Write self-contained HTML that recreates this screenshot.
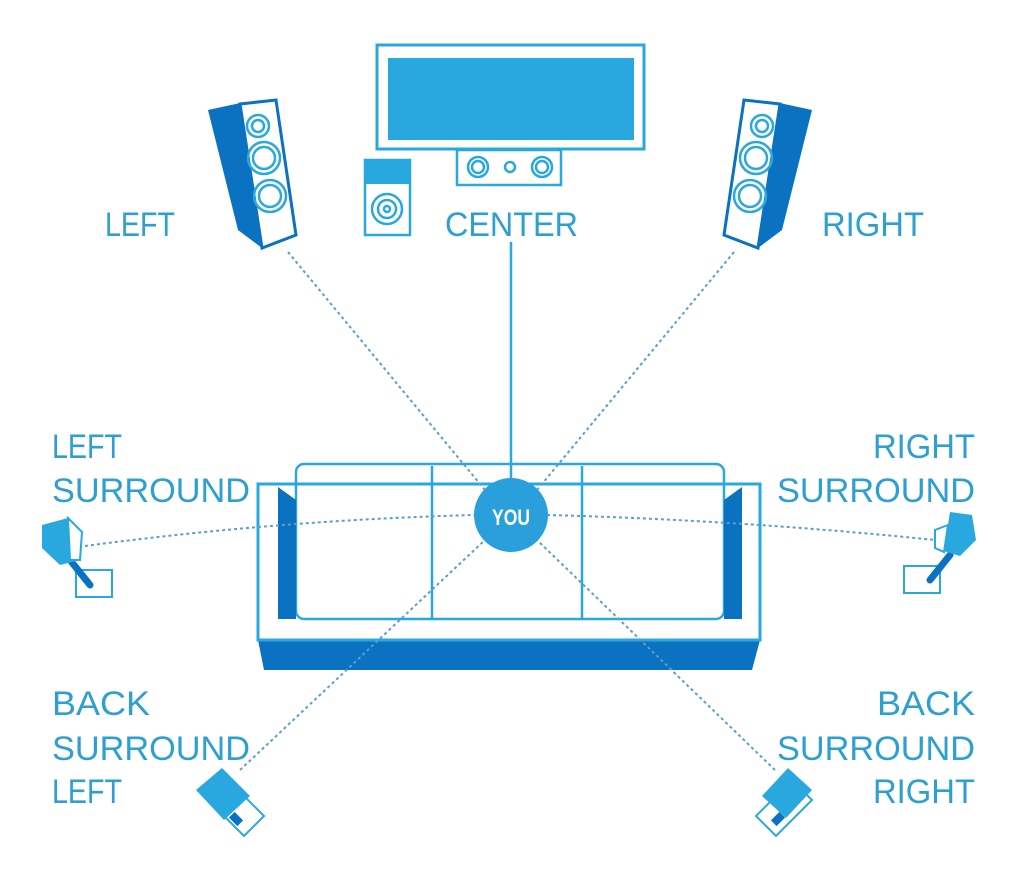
<!DOCTYPE html>
<html><head><style>html,body{margin:0;padding:0;background:#fff;}svg{display:block}</style></head>
<body>
<svg width="1020" height="890" viewBox="0 0 1020 890" xmlns="http://www.w3.org/2000/svg">
<g font-family="Liberation Sans, sans-serif" font-size="34" fill="#2d9fd0">
<text x="105" y="236" textLength="70" lengthAdjust="spacingAndGlyphs">LEFT</text>
<text x="445" y="236" textLength="133" lengthAdjust="spacingAndGlyphs">CENTER</text>
<text x="822" y="236" textLength="102" lengthAdjust="spacingAndGlyphs">RIGHT</text>
<text x="52" y="458" textLength="70" lengthAdjust="spacingAndGlyphs">LEFT</text>
<text x="52" y="502" textLength="198" lengthAdjust="spacingAndGlyphs">SURROUND</text>
<text x="873" y="458" textLength="102" lengthAdjust="spacingAndGlyphs">RIGHT</text>
<text x="777" y="502" textLength="198" lengthAdjust="spacingAndGlyphs">SURROUND</text>
<text x="52" y="715" textLength="98" lengthAdjust="spacingAndGlyphs">BACK</text>
<text x="52" y="760" textLength="198" lengthAdjust="spacingAndGlyphs">SURROUND</text>
<text x="52" y="803" textLength="70" lengthAdjust="spacingAndGlyphs">LEFT</text>
<text x="877" y="715" textLength="98" lengthAdjust="spacingAndGlyphs">BACK</text>
<text x="777" y="760" textLength="198" lengthAdjust="spacingAndGlyphs">SURROUND</text>
<text x="873" y="803" textLength="102" lengthAdjust="spacingAndGlyphs">RIGHT</text>
</g>
<!-- TV -->
<rect x="377" y="45" width="267" height="104" fill="#fff" stroke="#29a8e0" stroke-width="3"/>
<rect x="388" y="58" width="246" height="82" fill="#29a8e0"/>
<!-- center speaker -->
<rect x="457" y="150" width="104" height="35" fill="#fff" stroke="#29a8e0" stroke-width="2.5"/>
<g fill="none" stroke="#29a8e0" stroke-width="2.5">
<circle cx="478" cy="167" r="10"/><circle cx="478" cy="167" r="6"/>
<circle cx="510" cy="167" r="5"/>
<circle cx="542" cy="167" r="10"/><circle cx="542" cy="167" r="6"/>
</g>
<!-- sub -->
<rect x="365" y="160" width="45" height="75" fill="#fff" stroke="#29a8e0" stroke-width="2.5"/>
<rect x="365" y="160" width="45" height="24" fill="#29a8e0"/>
<g fill="none" stroke="#29a8e0" stroke-width="2.5"><circle cx="387" cy="209" r="15"/><circle cx="387" cy="209" r="9"/><circle cx="387" cy="209" r="3"/></g>
<!-- left tower -->
<polygon points="208,110 245,102 262,248 238,230" fill="#0a72c0"/>
<polygon points="240,104 276,100 296,235 262,248" fill="#fff" stroke="#0a72c0" stroke-width="3"/>
<g fill="none" stroke="#29a8e0" stroke-width="2.5">
<circle cx="258" cy="126" r="11"/><circle cx="258" cy="126" r="6"/>
<circle cx="264" cy="158" r="16"/><circle cx="264" cy="158" r="11"/>
<circle cx="270" cy="196" r="16"/><circle cx="270" cy="196" r="11"/>
</g>
<!-- right tower -->
<polygon points="812,110 775,102 758,248 782,230" fill="#0a72c0"/>
<polygon points="780,104 744,100 724,235 758,248" fill="#fff" stroke="#0a72c0" stroke-width="3"/>
<g fill="none" stroke="#29a8e0" stroke-width="2.5">
<circle cx="762" cy="126" r="11"/><circle cx="762" cy="126" r="6"/>
<circle cx="756" cy="158" r="16"/><circle cx="756" cy="158" r="11"/>
<circle cx="750" cy="196" r="16"/><circle cx="750" cy="196" r="11"/>
</g>
<!-- sofa -->
<polygon points="258,640 760,640 752,670 264,670" fill="#0a72c0"/>
<rect x="258" y="484" width="502" height="156" fill="#fff" stroke="#29a8e0" stroke-width="3"/>
<rect x="296" y="464" width="428" height="155" rx="8" fill="#fff" stroke="#29a8e0" stroke-width="2.5"/>
<line x1="432" y1="466" x2="432" y2="618" stroke="#29a8e0" stroke-width="2.5"/>
<line x1="582" y1="466" x2="582" y2="618" stroke="#29a8e0" stroke-width="2.5"/>
<polygon points="278,487 296,500 296,619 278,619" fill="#0a72c0"/>
<polygon points="742,487 724,500 724,619 742,619" fill="#0a72c0"/>
<rect x="258" y="484" width="502" height="156" fill="none" stroke="#29a8e0" stroke-width="3"/>
<!-- lines -->
<line x1="511" y1="242" x2="511" y2="482" stroke="#29a8e0" stroke-width="2.5"/>
<g fill="none" stroke="#5a9ed0" stroke-width="2" stroke-dasharray="3,3">
<line x1="288" y1="252" x2="485" y2="490"/>
<line x1="734" y1="252" x2="537" y2="490"/>
<path d="M85,546 Q280,520 475,515"/>
<path d="M547,515 Q740,520 935,540"/>
<line x1="240" y1="770" x2="485" y2="540"/>
<line x1="775" y1="770" x2="537" y2="540"/>
</g>
<circle cx="511" cy="515" r="37" fill="#29a0dc"/>
<text x="511" y="525" text-anchor="middle" font-family="Liberation Sans, sans-serif" font-weight="bold" font-size="22" fill="#fff" textLength="38" lengthAdjust="spacingAndGlyphs">YOU</text>
<!-- left surround -->
<rect x="76" y="570" width="36" height="27" fill="#fff" stroke="#29a8e0" stroke-width="2"/>
<line x1="70" y1="560" x2="90" y2="585" stroke="#0a72c0" stroke-width="7" stroke-linecap="round"/>
<polygon points="42,525 68,518 82,532 80,560 60,565 42,548" fill="#29a8e0"/>
<polygon points="68,518 82,532 80,560 70,560" fill="#fff" stroke="#29a8e0" stroke-width="2"/>
<!-- right surround -->
<rect x="904" y="566" width="36" height="27" fill="#fff" stroke="#29a8e0" stroke-width="2"/>
<line x1="950" y1="555" x2="930" y2="580" stroke="#0a72c0" stroke-width="7" stroke-linecap="round"/>
<polygon points="950,512 972,515 976,540 960,556 940,550 948,525" fill="#29a8e0"/>
<polygon points="935,530 948,525 944,552 935,548" fill="#fff" stroke="#29a8e0" stroke-width="2"/>
<!-- back left -->
<polygon points="228,780 264,816 244,836 208,800" fill="#fff" stroke="#29a8e0" stroke-width="2"/>
<polygon points="196,790 222,768 250,796 224,820" fill="#29a8e0"/>
<rect x="230" y="815" width="12" height="8" fill="#0a72c0" transform="rotate(45 236 819)"/>
<!-- back right -->
<polygon points="792,780 756,816 776,836 812,800" fill="#fff" stroke="#29a8e0" stroke-width="2"/>
<polygon points="812,790 788,768 762,796 786,818" fill="#29a8e0"/>
<rect x="772" y="815" width="12" height="8" fill="#0a72c0" transform="rotate(-45 778 819)"/>
</svg>
</body></html>
